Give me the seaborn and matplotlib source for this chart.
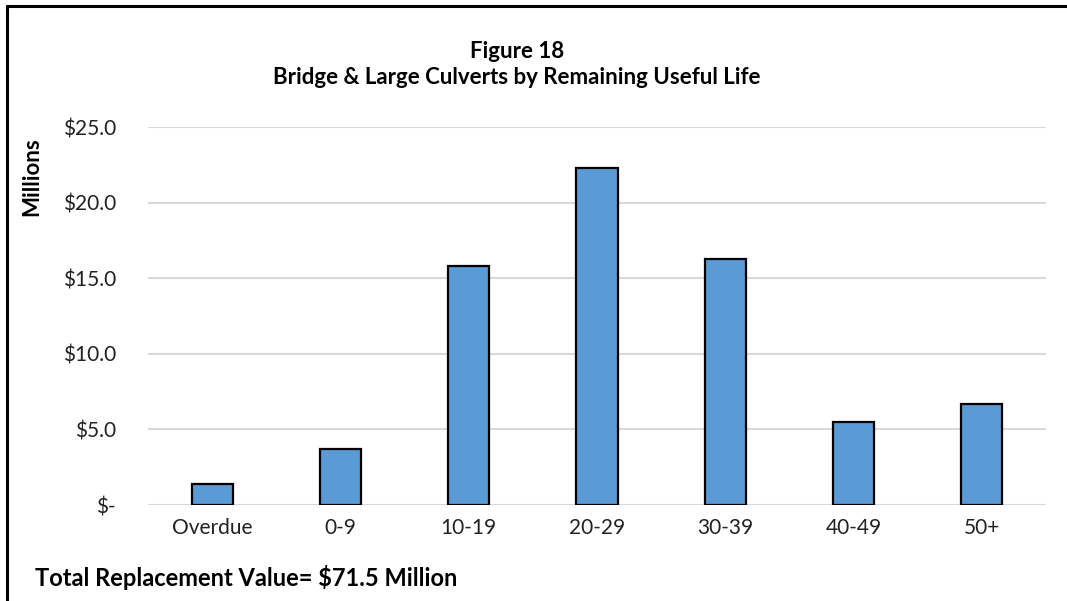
import matplotlib
matplotlib.use("Agg")
import matplotlib.pyplot as plt
from matplotlib.lines import Line2D
from matplotlib.ticker import FuncFormatter
import seaborn as sns
import pandas as pd

categories = ["Overdue", "0-9", "10-19", "20-29", "30-39", "40-49", "50+"]
values_millions = [1.4, 3.7, 15.8, 22.3, 16.3, 5.5, 6.7]
y_ticks = [0, 5, 10, 15, 20, 25]

df = pd.DataFrame({"life": categories, "value": values_millions})

sns.set_theme(style="white")
plt.rcParams["font.family"] = ["Lato", "DejaVu Sans"]

W, H = 1067, 601
fig = plt.figure(figsize=(W / 100, H / 100), dpi=100)
ax = fig.add_axes([148 / W, 1 - 505 / H, (1046 - 148) / W, (505 - 127.3) / H])

sns.barplot(data=df, x="life", y="value", ax=ax, color="#5b9bd5",
            width=0.32, edgecolor="black", linewidth=1.6, saturation=1, zorder=3)

ax.set_ylim(0, 25)
ax.set_yticks(y_ticks)
ax.yaxis.set_major_formatter(FuncFormatter(lambda v, p: "$-" if v == 0 else f"${v:.1f}"))
ax.yaxis.grid(True, color="#d9d9d9", linewidth=1.5, zorder=0)
ax.xaxis.grid(False)
for s in ax.spines.values():
    s.set_visible(False)
ax.set_xlabel("")
ax.set_ylabel("")
ax.tick_params(axis="y", length=0, pad=23, labelsize=15, labelcolor="#222222")
ax.tick_params(axis="x", length=0, pad=9, labelsize=15, labelcolor="#222222")

fig.text(517 / W, 1 - 52 / H, "Figure 18", ha="center", va="center",
         fontsize=16, fontweight="bold", color="black")
fig.text(517 / W, 1 - 78 / H, "Bridge & Large Culverts by Remaining Useful Life",
         ha="center", va="center", fontsize=16, fontweight="bold", color="black")
fig.text(32 / W, 1 - 177 / H, "Millions", rotation=90, ha="center", va="center",
         fontsize=16, fontweight="bold", color="black")
fig.text(35 / W, 1 - 578 / H, "Total Replacement Value= $71.5 Million",
         ha="left", va="center", fontsize=17, fontweight="bold", color="black")

# frame on the top and left edges
fig.add_artist(Line2D([7 / W, 1], [1 - 6 / H, 1 - 6 / H], color="black", linewidth=2.2))
fig.add_artist(Line2D([7 / W, 7 / W], [0, 1 - 6 / H], color="black", linewidth=2.2))

fig.savefig("out.png", dpi=100)
